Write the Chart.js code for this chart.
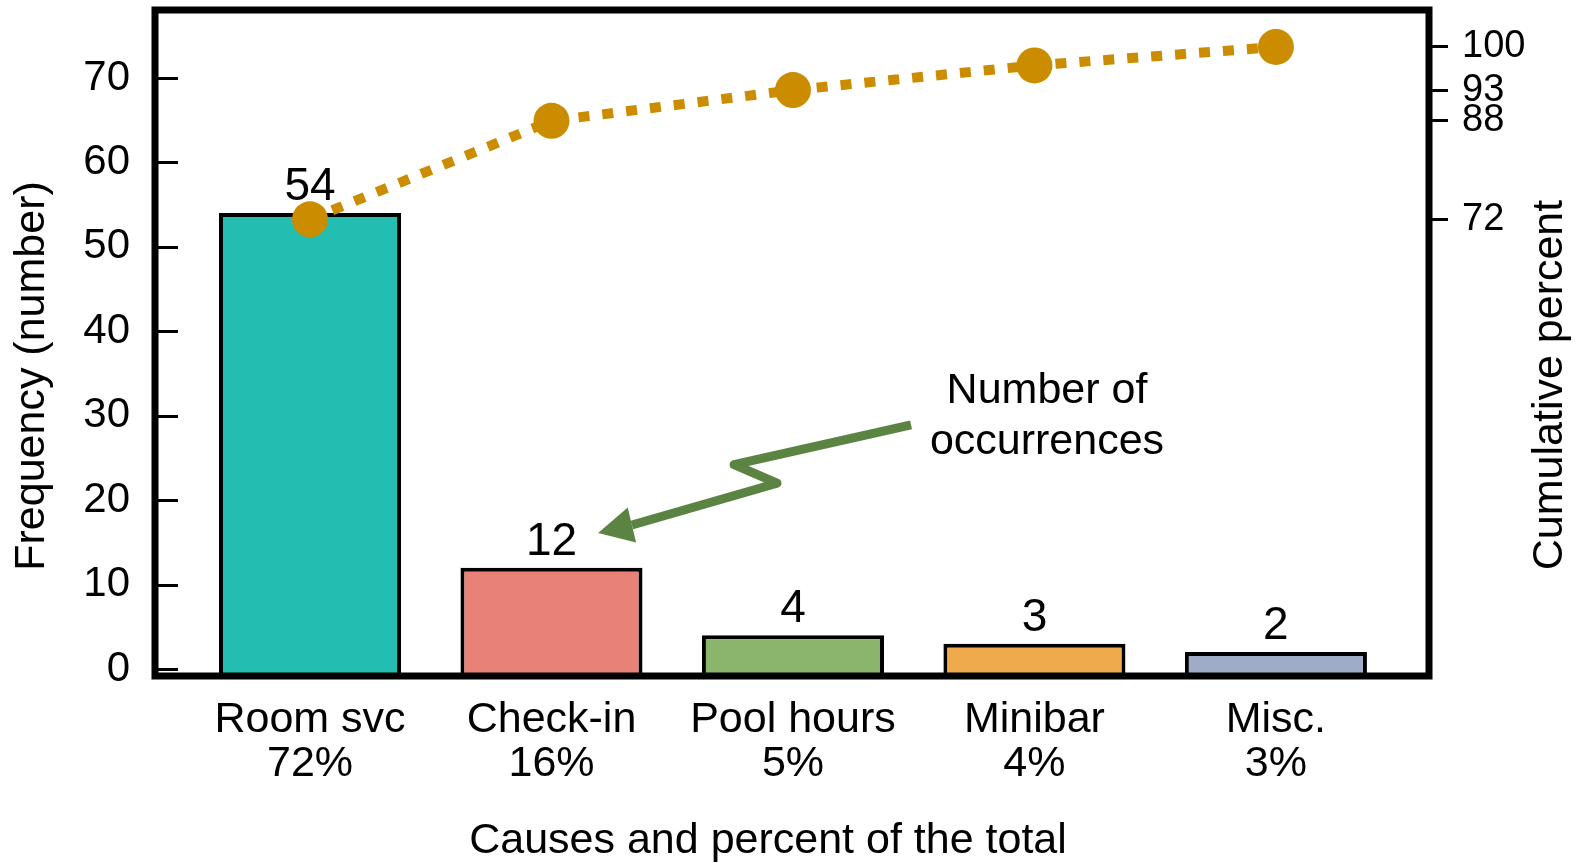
<!DOCTYPE html>
<html>
<head>
<meta charset="utf-8">
<title>Pareto chart</title>
<script src="https://cdn.jsdelivr.net/npm/chart.js@4.4.1/dist/chart.umd.min.js"></script>
<style>
  html, body { margin: 0; padding: 0; background: #fff; }
  canvas { display: block; }
</style>
</head>
<body>
<canvas id="pareto" width="1589" height="863"></canvas>
<script>
// data
const categories = ['Room svc', 'Check-in', 'Pool hours', 'Minibar', 'Misc.'];
const shares = ['72%', '16%', '5%', '4%', '3%'];
const counts = [54, 12, 4, 3, 2];
const cumulative = [72, 88, 93, 97, 100];
const leftTicks = [0, 10, 20, 30, 40, 50, 60, 70];
const rightTicks = [72, 88, 93, 100];
const barColors = ['#24bdb1', '#e98276', '#8bb46d', '#eeaa4b', '#9eacc8'];

const FONT = '"Liberation Sans", Arial, sans-serif';
Chart.defaults.font.family = FONT;
Chart.defaults.color = '#000';

// annotation arrow, in data units (x = category index, y = frequency)
const arrowPts = [[2.489, 28.9], [1.756, 24.2], [1.934, 22.0], [1.333, 17.06]];
const arrowTip = [1.193, 16.1];
const noteLines = ['Number of', 'occurrences'];
const notePos = [3.052, [32.9, 26.9]];

function zeroPad(scale) {
  scale.paddingTop = 0; scale.paddingBottom = 0;
  scale.paddingLeft = 0; scale.paddingRight = 0;
}

const decorations = {
  id: 'decorations',
  afterDatasetsDraw(chart) {
    const ctx = chart.ctx;
    // value labels above bars
    ctx.save();
    ctx.fillStyle = '#000';
    ctx.font = '46px ' + FONT;
    ctx.textAlign = 'center';
    ctx.textBaseline = 'alphabetic';
    chart.getDatasetMeta(1).data.forEach((bar, i) => {
      ctx.fillText(String(counts[i]), bar.x, bar.y - 13);
    });
    ctx.restore();
  },
  afterDraw(chart) {
    const ctx = chart.ctx;
    const a = chart.chartArea;
    const x = chart.scales.x, y = chart.scales.y;
    ctx.save();
    // inward ticks on left axis
    ctx.strokeStyle = '#000';
    ctx.lineWidth = 3;
    leftTicks.forEach(v => {
      const py = Math.round(y.getPixelForValue(v)) + 0.5;
      ctx.beginPath();
      ctx.moveTo(a.left, py);
      ctx.lineTo(a.left + 23, py);
      ctx.stroke();
    });
    // frame
    ctx.lineWidth = 7;
    ctx.strokeRect(a.left, a.top, a.right - a.left, a.bottom - a.top);

    // annotation arrow
    const px = p => [x.getPixelForValue(p[0]), y.getPixelForValue(p[1])];
    const pts = arrowPts.map(px);
    const tip = px(arrowTip);
    ctx.strokeStyle = '#5b8442';
    ctx.fillStyle = '#5b8442';
    ctx.lineWidth = 9;
    ctx.lineJoin = 'round';
    ctx.beginPath();
    pts.forEach((p, i) => i ? ctx.lineTo(p[0], p[1]) : ctx.moveTo(p[0], p[1]));
    ctx.stroke();
    const last = pts[pts.length - 1];
    const dx = tip[0] - last[0], dy = tip[1] - last[1];
    const len = Math.hypot(dx, dy);
    const nx = -dy / len * 18, ny = dx / len * 18;
    ctx.beginPath();
    ctx.moveTo(tip[0], tip[1]);
    ctx.lineTo(last[0] + nx, last[1] + ny);
    ctx.lineTo(last[0] - nx, last[1] - ny);
    ctx.closePath();
    ctx.fill();

    // annotation text
    ctx.fillStyle = '#000';
    ctx.font = '43px ' + FONT;
    ctx.textAlign = 'center';
    ctx.textBaseline = 'middle';
    noteLines.forEach((t, i) => {
      ctx.fillText(t, x.getPixelForValue(notePos[0]), y.getPixelForValue(notePos[1][i]));
    });

    // axis titles
    ctx.fillText('Causes and percent of the total', 768, 841);
    ctx.save();
    ctx.translate(32, 376);
    ctx.rotate(-Math.PI / 2);
    ctx.fillText('Frequency (number)', 0, 0);
    ctx.restore();
    ctx.save();
    ctx.translate(1550, 385);
    ctx.rotate(-Math.PI / 2);
    ctx.fillText('Cumulative percent', 0, 0);
    ctx.restore();
    ctx.restore();
  }
};

const Y_MIN = -0.83, Y_MAX = 78.05;

new Chart(document.getElementById('pareto'), {
  type: 'bar',
  data: {
    datasets: [
      {
        type: 'line',
        label: 'Cumulative percent',
        data: cumulative.map((v, i) => ({ x: i, y: v })),
        yAxisID: 'y2',
        borderColor: '#cc8c00',
        backgroundColor: '#cc8c00',
        borderWidth: 10,
        borderDash: [11, 13],
        borderCapStyle: 'butt',
        pointRadius: 18,
        pointBorderWidth: 0,
        pointBackgroundColor: '#cc8c00',
        tension: 0,
        order: 1
      },
      {
        type: 'bar',
        label: 'Frequency',
        data: counts.map((v, i) => ({ x: i, y: v })),
        yAxisID: 'y',
        backgroundColor: barColors,
        borderColor: '#000',
        borderWidth: { top: 4, left: 4, right: 4, bottom: 0 },
        borderSkipped: false,
        base: Y_MIN,
        barPercentage: 0.754,
        categoryPercentage: 1,
        order: 2
      }
    ]
  },
  options: {
    responsive: false,
    animation: false,
    layout: { autoPadding: false, padding: { top: 10, left: 0, right: 0, bottom: 0 } },
    plugins: {
      legend: { display: false },
      tooltip: { enabled: false },
      title: { display: false }
    },
    scales: {
      x: {
        type: 'linear',
        offset: false,
        min: -0.642,
        max: 4.634,
        grid: { display: false, drawTicks: false, offset: false },
        border: { display: false },
        afterBuildTicks: s => { s.ticks = categories.map((_, i) => ({ value: i })); },
        afterFit: s => { s.height = 187; zeroPad(s); },
        ticks: {
          autoSkip: false,
          maxRotation: 0,
          padding: 22,
          font: { size: 43, lineHeight: 1.03 },
          callback: v => [categories[v], shares[v]]
        }
      },
      y: {
        position: 'left',
        min: Y_MIN,
        max: Y_MAX,
        grid: { display: false, drawTicks: false },
        border: { display: false },
        afterBuildTicks: s => { s.ticks = leftTicks.map(v => ({ value: v })); },
        afterFit: s => { s.width = 155; zeroPad(s); },
        ticks: { padding: 25, font: { size: 42 } }
      },
      y2: {
        position: 'right',
        min: -2.18,
        max: 106.0,
        grid: { display: true, drawOnChartArea: false, drawTicks: true, tickLength: 19, lineWidth: 3, color: '#000' },
        border: { display: false },
        afterBuildTicks: s => { s.ticks = rightTicks.map(v => ({ value: v })); },
        afterFit: s => { s.width = 160; zeroPad(s); },
        ticks: { padding: 14, font: { size: 38 } }
      }
    }
  },
  plugins: [decorations]
});
</script>
</body>
</html>
